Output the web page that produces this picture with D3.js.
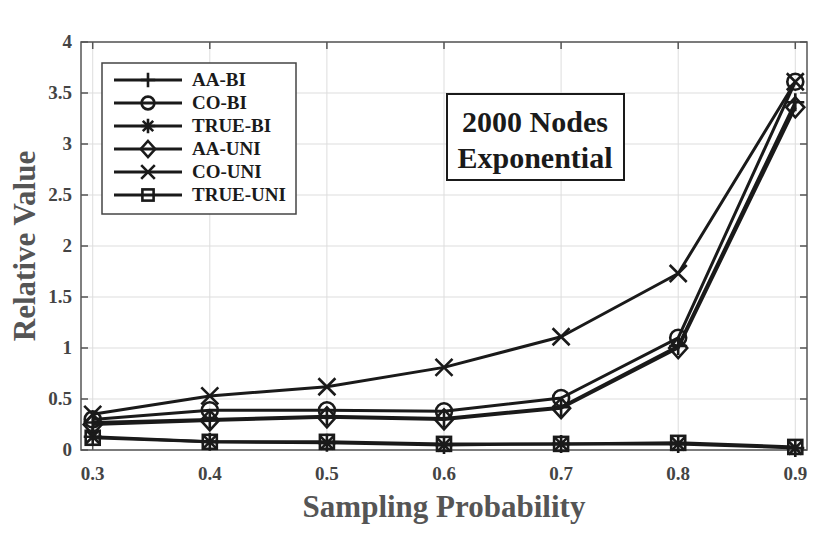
<!DOCTYPE html>
<meta charset="utf-8">
<style>
body { margin: 0; background: #fff; }
svg { font-family: "Liberation Serif", "Times New Roman", serif; font-weight: bold; }
.grid line { stroke: #ddd; stroke-width: 1px; }
.tick-label { fill: #444; font-size: 19px; }
.axis-title { fill: #555; font-size: 31px; }
.series { fill: none; stroke: #1a1a1a; stroke-width: 3px; stroke-linejoin: round; }
.marker { fill: none; stroke: #1a1a1a; stroke-width: 2.6px; }
</style>
<svg width="830" height="535"></svg>
<script src="https://d3js.org/d3.v7.min.js"></script>
<script>

var xVals = [0.3, 0.4, 0.5, 0.6, 0.7, 0.8, 0.9];
var aaBi    = [0.27, 0.30, 0.33, 0.31, 0.42, 1.02, 3.41];
var coBi    = [0.30, 0.39, 0.39, 0.38, 0.51, 1.10, 3.61];
var trueBi  = [0.13, 0.08, 0.07, 0.05, 0.06, 0.06, 0.02];
var aaUni   = [0.25, 0.29, 0.32, 0.30, 0.41, 1.00, 3.36];
var coUni   = [0.35, 0.53, 0.62, 0.81, 1.11, 1.73, 3.61];
var trueUni = [0.12, 0.08, 0.08, 0.06, 0.06, 0.07, 0.03];

var seriesNames = ['AA-BI', 'CO-BI', 'TRUE-BI', 'AA-UNI', 'CO-UNI', 'TRUE-UNI'];
var seriesMarkers = ['plus', 'circle', 'star', 'diamond', 'cross', 'square'];
var seriesValues = [aaBi, coBi, trueBi, aaUni, coUni, trueUni];

var xTicks = [0.3, 0.4, 0.5, 0.6, 0.7, 0.8, 0.9];
var yTicks = [0, 0.5, 1, 1.5, 2, 2.5, 3, 3.5, 4];

(function () {

var svg = d3.select('svg');

var pLeft = 81, pRight = 807, pTop = 42, pBottom = 450;

var x = d3.scaleLinear().domain([0.29, 0.91]).range([pLeft, pRight]);
var y = d3.scaleLinear().domain([0, 4]).range([pBottom, pTop]);

// grid
var grid = svg.append('g').attr('class', 'grid');
grid.selectAll('.gx').data(xTicks).enter().append('line')
  .attr('x1', d => x(d)).attr('x2', d => x(d))
  .attr('y1', pTop).attr('y2', pBottom);
grid.selectAll('.gy').data(yTicks).enter().append('line')
  .attr('x1', pLeft).attr('x2', pRight)
  .attr('y1', d => y(d)).attr('y2', d => y(d));

// frame with inward ticks on all sides
var frame = svg.append('g').attr('stroke', '#555').attr('stroke-width', 1.5);
frame.append('rect').attr('x', pLeft).attr('y', pTop)
  .attr('width', pRight - pLeft).attr('height', pBottom - pTop).attr('fill', 'none');
yTicks.forEach(function (t) {
  frame.append('line').attr('x1', pLeft).attr('x2', pLeft + 7).attr('y1', y(t)).attr('y2', y(t));
  frame.append('line').attr('x1', pRight).attr('x2', pRight - 7).attr('y1', y(t)).attr('y2', y(t));
});
xTicks.forEach(function (t) {
  frame.append('line').attr('x1', x(t)).attr('x2', x(t)).attr('y1', pBottom).attr('y2', pBottom - 7);
  frame.append('line').attr('x1', x(t)).attr('x2', x(t)).attr('y1', pTop).attr('y2', pTop + 7);
});

// tick labels
svg.selectAll('.ylab').data(yTicks).enter().append('text')
  .attr('class', 'tick-label')
  .attr('x', pLeft - 9).attr('y', d => y(d) + 6)
  .attr('text-anchor', 'end')
  .text(d => d3.format('')(d));
svg.selectAll('.xlab').data(xTicks).enter().append('text')
  .attr('class', 'tick-label')
  .attr('x', d => x(d)).attr('y', 480)
  .attr('text-anchor', 'middle')
  .text(d => d.toFixed(1));

svg.append('text').attr('class', 'axis-title')
  .attr('x', 444).attr('y', 517).attr('text-anchor', 'middle')
  .text('Sampling Probability');
svg.append('text').attr('class', 'axis-title')
  .attr('transform', 'translate(35,246) rotate(-90)').attr('text-anchor', 'middle')
  .text('Relative Value');

// markers, k scales the size
function drawMarker(g, type, cx, cy, k) {
  var s = 9 * k;
  if (type === 'plus') {
    g.append('path').attr('class', 'marker')
      .attr('d', 'M' + (cx - s) + ',' + cy + 'H' + (cx + s) + 'M' + cx + ',' + (cy - s) + 'V' + (cy + s));
  } else if (type === 'circle') {
    g.append('circle').attr('class', 'marker').attr('cx', cx).attr('cy', cy).attr('r', 8 * k);
  } else if (type === 'star') {
    var d = 6.5 * k;
    g.append('path').attr('class', 'marker')
      .attr('d', 'M' + (cx - s) + ',' + cy + 'H' + (cx + s) + 'M' + cx + ',' + (cy - s) + 'V' + (cy + s) +
        'M' + (cx - d) + ',' + (cy - d) + 'L' + (cx + d) + ',' + (cy + d) +
        'M' + (cx - d) + ',' + (cy + d) + 'L' + (cx + d) + ',' + (cy - d));
  } else if (type === 'diamond') {
    g.append('path').attr('class', 'marker')
      .attr('d', 'M' + cx + ',' + (cy - 10 * k) + 'L' + (cx + 9 * k) + ',' + cy + 'L' + cx + ',' + (cy + 10 * k) + 'L' + (cx - 9 * k) + ',' + cy + 'Z');
  } else if (type === 'cross') {
    var c = 8.5 * k;
    g.append('path').attr('class', 'marker')
      .attr('d', 'M' + (cx - c) + ',' + (cy - c) + 'L' + (cx + c) + ',' + (cy + c) +
        'M' + (cx - c) + ',' + (cy + c) + 'L' + (cx + c) + ',' + (cy - c));
  } else if (type === 'square') {
    var q = 7 * k;
    g.append('rect').attr('class', 'marker').attr('x', cx - q).attr('y', cy - q).attr('width', 2 * q).attr('height', 2 * q);
  }
}

var line = d3.line().x((d, i) => x(xVals[i])).y(d => y(d));

seriesValues.forEach(function (vals, k) {
  var g = svg.append('g');
  g.append('path').attr('class', 'series').attr('d', line(vals));
  vals.forEach(function (v, i) {
    drawMarker(g, seriesMarkers[k], x(xVals[i]), y(v), 1);
  });
});

// legend
var lg = svg.append('g');
lg.append('rect').attr('x', 102).attr('y', 63).attr('width', 194).attr('height', 151)
  .attr('fill', '#fff').attr('stroke', '#444').attr('stroke-width', 1.5);
seriesNames.forEach(function (name, k) {
  var ry = 80 + k * 23;
  lg.append('line').attr('class', 'series').attr('x1', 114).attr('x2', 182).attr('y1', ry).attr('y2', ry);
  drawMarker(lg, seriesMarkers[k], 148, ry, 0.8);
  lg.append('text').attr('x', 192).attr('y', ry + 6).attr('font-size', '19px').attr('fill', '#1a1a1a')
    .text(name);
});

// annotation box
var ab = svg.append('g');
ab.append('rect').attr('x', 447).attr('y', 94).attr('width', 177).attr('height', 86)
  .attr('fill', '#fff').attr('stroke', '#1a1a1a').attr('stroke-width', 2);
ab.append('text').attr('x', 535).attr('y', 132).attr('text-anchor', 'middle')
  .attr('font-size', '30px').attr('fill', '#1a1a1a').text('2000 Nodes');
ab.append('text').attr('x', 535).attr('y', 168).attr('text-anchor', 'middle')
  .attr('font-size', '30px').attr('fill', '#1a1a1a').text('Exponential');

})();

</script>
